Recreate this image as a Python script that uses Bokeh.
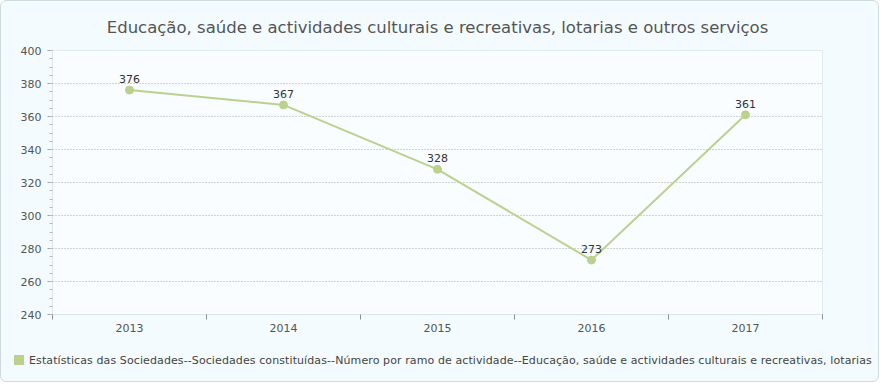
from bokeh.plotting import figure
from bokeh.layouts import column
from bokeh.models import (FixedTicker, SingleIntervalTicker, Range1d, ColumnDataSource, Div)
from bokeh.core.properties import value
from bokeh.embed import file_html
from bokeh.resources import INLINE

# ---- data ----
title_text = "Educação, saúde e actividades culturais e recreativas, lotarias e outros serviços"
series_name = ("Estatísticas das Sociedades--Sociedades constituídas--Número por ramo de "
               "actividade--Educação, saúde e actividades culturais e recreativas, lotarias "
               "e outros serviços")
years = [2013, 2014, 2015, 2016, 2017]
values = [376, 367, 328, 273, 361]
y_ticks = [240, 260, 280, 300, 320, 340, 360, 380, 400]

FONT = "DejaVu Sans"
LINE_COLOR = "#bcd18e"
W, H_FIG, H_LEG = 872, 348, 22

src = ColumnDataSource(dict(x=years, y=values, lab=[str(v) for v in values]))

p = figure(width=W, height=H_FIG,
           x_range=Range1d(years[0] - 0.5, years[-1] + 0.5),
           y_range=Range1d(y_ticks[0], y_ticks[-1]),
           output_backend="svg", toolbar_location=None,
           min_border_left=51, min_border_right=51,
           min_border_top=45, min_border_bottom=35)

p.border_fill_color = "#f3fbfe"
p.background_fill_color = "#f9fdff"
p.outline_line_color = "#e3ebee"

# title
p.title.text = title_text
p.title.align = "center"
p.title.text_font = FONT
p.title.text_font_size = "16.5px"
p.title.text_font_style = "normal"
p.title.text_color = "#555555"
if "standoff" in p.title.properties():
    p.title.standoff = 28

# y axis
p.yaxis.ticker = SingleIntervalTicker(interval=20, num_minor_ticks=4)
p.yaxis.axis_line_color = "#dde5e8"
p.yaxis.major_tick_line_color = "#a0a0a0"
p.yaxis.minor_tick_line_color = "#b8b8b8"
p.yaxis.major_tick_out = 5
p.yaxis.major_tick_in = 0
p.yaxis.minor_tick_out = 3
p.yaxis.minor_tick_in = 0
p.yaxis.major_label_text_font = FONT
p.yaxis.major_label_text_font_size = "11px"
p.yaxis.major_label_text_color = "#555555"
p.yaxis.major_label_standoff = 6

# x axis
bounds = [y - 0.5 for y in years] + [years[-1] + 0.5]
p.xaxis.ticker = FixedTicker(ticks=years, minor_ticks=bounds)
p.xaxis.axis_line_color = "#dde5e8"
p.xaxis.major_tick_out = 0
p.xaxis.major_tick_in = 0
p.xaxis.minor_tick_out = 5
p.xaxis.minor_tick_in = 0
p.xaxis.minor_tick_line_color = "#909090"
p.xaxis.major_label_text_font = FONT
p.xaxis.major_label_text_font_size = "11px"
p.xaxis.major_label_text_color = "#555555"
p.xaxis.major_label_standoff = 4

# grid
p.xgrid.visible = False
p.ygrid.ticker = FixedTicker(ticks=y_ticks[1:-1])
p.ygrid.grid_line_color = "#a8a8a8"
p.ygrid.grid_line_dash = "1 2"

# series
p.line("x", "y", source=src, line_color=LINE_COLOR, line_width=2)
p.scatter("x", "y", source=src, size=8, fill_color=LINE_COLOR, line_color=LINE_COLOR)
p.text("x", "y", text="lab", source=src, y_offset=-7,
       text_align="center", text_baseline="bottom",
       text_font=value(FONT), text_font_size="11px", text_color="#333333")

# legend (below the chart)
legend_html = (
    f'<div style="white-space:nowrap;overflow:hidden;width:{W - 13}px;'
    f'font-family:\'{FONT}\';font-size:11px;letter-spacing:0.1px;color:#444444;'
    f'line-height:14px;">'
    f'<span style="display:inline-block;width:10px;height:10px;background:{LINE_COLOR};'
    f'vertical-align:-1px;margin-right:5px;"></span>{series_name}</div>'
)
leg = Div(text=legend_html, width=W - 13, height=H_LEG,
          styles={"overflow": "hidden", "margin-left": "13px", "background": "#f3fbfe"})

layout = column(p, leg, spacing=0,
                styles={"border": "1px solid #cddbe0", "border-radius": "6px",
                        "background": "#f3fbfe", "overflow": "hidden"})

open("out.html", "w").write(file_html(layout, INLINE))
